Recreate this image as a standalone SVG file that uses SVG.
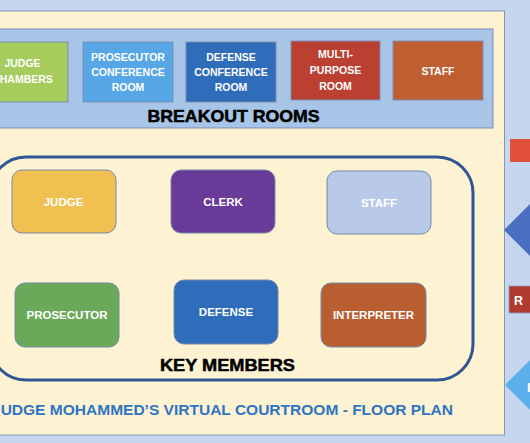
<svg xmlns="http://www.w3.org/2000/svg" width="530" height="443" viewBox="0 0 530 443">
<style>
.room{stroke:#7b8fb6;stroke-width:1}
.rt{font-family:"Liberation Sans",Arial,sans-serif;font-weight:bold;font-size:10.5px;fill:#ffffff;text-anchor:middle}
.km{stroke:#7689a8;stroke-width:1}
.kt{font-family:"Liberation Sans",Arial,sans-serif;font-weight:bold;font-size:11.5px;fill:#ffffff;text-anchor:middle}
.hd{font-family:"Liberation Sans",Arial,sans-serif;font-weight:bold;fill:#000000;stroke:#000000;stroke-width:0.5;text-anchor:middle}
</style>
<rect x="0" y="0" width="530" height="443" fill="#c5d6ee"/>
<rect id="floor" x="-10" y="11" width="514.5" height="424" fill="#fdf2d2" stroke="#8497b8" stroke-width="1"/>
<g id="breakout-rooms">
  <rect x="-10" y="29" width="503" height="99" fill="#a8c4e6" stroke="#7b8fb6" stroke-width="1"/>
  <text class="hd" x="233.5" y="122" font-size="17" textLength="172" lengthAdjust="spacingAndGlyphs">BREAKOUT ROOMS</text>
</g>
<g id="judge-chambers">
  <rect class="room" x="-23" y="42" width="91" height="60" fill="#a6cc5d"/>
  <text class="rt" x="22.5" y="67">JUDGE</text>
  <text class="rt" x="22.5" y="83">CHAMBERS</text>
</g>
<g id="prosecutor-conference-room">
  <rect class="room" x="83" y="42" width="90" height="60" fill="#57a7e6"/>
  <text class="rt" x="128" y="61">PROSECUTOR</text>
  <text class="rt" x="128" y="76">CONFERENCE</text>
  <text class="rt" x="128" y="91">ROOM</text>
</g>
<g id="defense-conference-room">
  <rect class="room" x="186" y="42" width="90" height="60" fill="#2f6cba"/>
  <text class="rt" x="231" y="61">DEFENSE</text>
  <text class="rt" x="231" y="76">CONFERENCE</text>
  <text class="rt" x="231" y="91">ROOM</text>
</g>
<g id="multi-purpose-room">
  <rect class="room" x="291" y="41" width="89" height="59" fill="#bb4032"/>
  <text class="rt" x="335.5" y="58">MULTI-</text>
  <text class="rt" x="335.5" y="74">PURPOSE</text>
  <text class="rt" x="335.5" y="90">ROOM</text>
</g>
<g id="staff-room">
  <rect class="room" x="393" y="41" width="90" height="59" fill="#bf5e30"/>
  <text class="rt" x="438" y="75">STAFF</text>
</g>
<g id="key-members">
  <rect x="-10" y="157" width="483" height="223" rx="36" ry="36" fill="none" stroke="#2f5597" stroke-width="3"/>
  <text class="hd" x="227.5" y="371" font-size="16.5" textLength="135" lengthAdjust="spacingAndGlyphs">KEY MEMBERS</text>
</g>
<g id="judge">
  <rect class="km" x="12" y="170" width="104" height="63" rx="10" fill="#f0c050"/>
  <text class="kt" x="63.5" y="206">JUDGE</text>
</g>
<g id="clerk">
  <rect class="km" x="171" y="170" width="104" height="63" rx="10" fill="#6a3a98"/>
  <text class="kt" x="223" y="206">CLERK</text>
</g>
<g id="staff">
  <rect class="km" x="327" y="171" width="104" height="63" rx="10" fill="#b9c9e8"/>
  <text class="kt" x="379" y="207">STAFF</text>
</g>
<g id="prosecutor">
  <rect class="km" x="15" y="283" width="104" height="64" rx="10" fill="#6aa95a"/>
  <text class="kt" x="67" y="319">PROSECUTOR</text>
</g>
<g id="defense">
  <rect class="km" x="174" y="280" width="104" height="64" rx="10" fill="#2f6cba"/>
  <text class="kt" x="226" y="316">DEFENSE</text>
</g>
<g id="interpreter">
  <rect class="km" x="321" y="283" width="105" height="64" rx="10" fill="#b85e30"/>
  <text class="kt" x="373.5" y="319">INTERPRETER</text>
</g>
<g id="title">
  <text x="453" y="415" text-anchor="end" font-family="'Liberation Sans',Arial,sans-serif" font-weight="bold" font-size="15" fill="#2e75c5" textLength="461" lengthAdjust="spacingAndGlyphs">JUDGE MOHAMMED’S VIRTUAL COURTROOM - FLOOR PLAN</text>
</g>
<g id="side-red">
  <rect x="510" y="139" width="30" height="23" fill="#e0503a"/>
</g>
<g id="side-blue-diamond">
  <polygon points="504,230 531,203 558,230 531,257" fill="#4a6fc0"/>
</g>
<g id="side-dark-red">
  <rect x="509" y="286" width="30" height="27" fill="#b03a2e" stroke="#8a9ec0" stroke-width="0.8"/>
  <text x="514" y="305" font-family="'Liberation Sans',Arial,sans-serif" font-weight="bold" font-size="12.5" fill="#ffffff">R</text>
</g>
<g id="side-light-diamond">
  <polygon points="505,385 530,360 555,385 530,410" fill="#5aaeea"/>
  <text x="527" y="392" font-family="'Liberation Sans',Arial,sans-serif" font-weight="bold" font-size="12.5" fill="#ffffff">I</text>
</g>
<g id="connectors"></g>
</svg>
